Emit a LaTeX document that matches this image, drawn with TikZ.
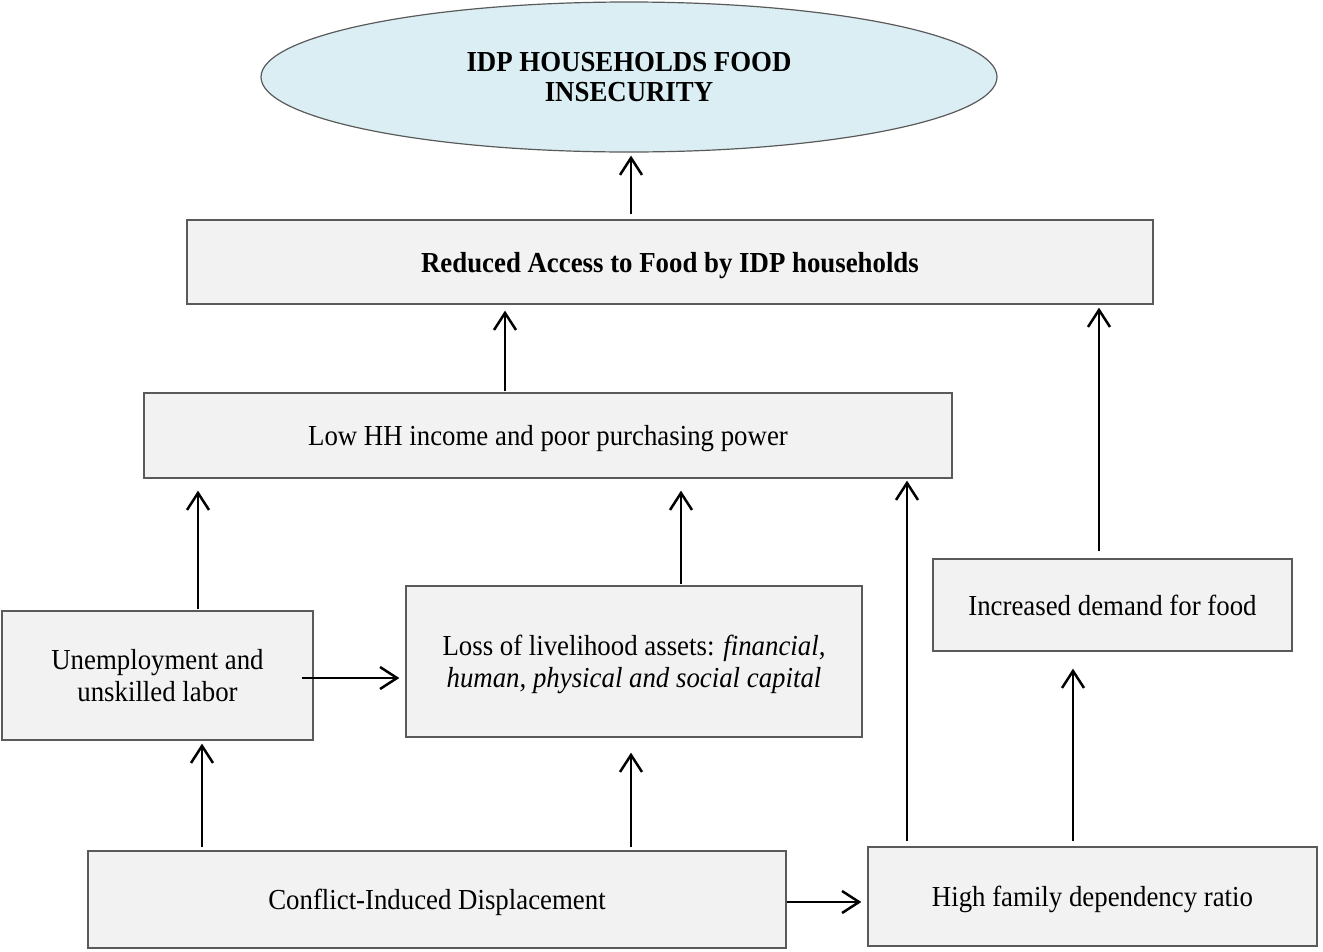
\documentclass[tikz,border=0pt]{standalone}
\usepackage{fontspec}
\setmainfont{Liberation Serif}[FakeStretch=0.925]
\usetikzlibrary{arrows.meta,shapes.geometric}
\definecolor{boxgray}{HTML}{F2F2F2}
\definecolor{ellblue}{HTML}{DAEEF3}
\definecolor{edgegray}{HTML}{5A5A5A}

\begin{document}
\begin{tikzpicture}[x=1pt,y=-1pt,
  box/.style={draw=edgegray, line width=1.3pt, fill=boxgray, inner sep=0pt,
    text depth=-4pt, align=center, font=\fontsize{29}{32}\selectfont},
  arr/.style={line width=2.5pt, -{Straight Barb[length=17pt,width=22pt]}}]

\useasboundingbox (0,0) rectangle (1323,951);

% goal
\node[ellipse, draw=edgegray, fill=ellblue, line width=1.2pt, inner sep=0pt,
  minimum width=736pt, minimum height=150pt, align=center,
  font=\bfseries\fontsize{29}{30}\selectfont] (insec) at (629,77)
  {IDP HOUSEHOLDS FOOD\\INSECURITY};

% boxes
\node[box, minimum width=966pt, minimum height=84pt,
  font=\bfseries\fontsize{29}{32}\selectfont] (access) at (670,262)
  {Reduced Access to Food by IDP households};
\node[box, minimum width=808pt, minimum height=85pt] (low) at (548,435.5)
  {Low HH income and poor purchasing power};
\node[box, minimum width=311pt, minimum height=129pt] (unemp) at (157.5,675.5)
  {Unemployment and\\unskilled labor};
\node[box, minimum width=456pt, minimum height=151pt] (loss) at (634,661.5)
  {Loss of livelihood assets: \textit{financial,}\\\textit{human, physical and social capital}};
\node[box, minimum width=359pt, minimum height=92pt] (incr) at (1112.5,605)
  {Increased demand for food};
\node[box, minimum width=698pt, minimum height=97pt] (conflict) at (437,899.5)
  {Conflict-Induced Displacement};
\node[box, minimum width=449pt, minimum height=99pt] (high) at (1092.5,896.5)
  {High family dependency ratio};

% arrows
\draw[arr, shorten <=5pt, shorten >=3pt] (access.north -| 631,0) -- (insec.south -| 631,0);
\draw[arr, shorten <=1pt, shorten >=6pt] (low.north -| 505,0) -- (access.south -| 505,0);
\draw[arr, shorten <=1pt, shorten >=12pt] (unemp.north -| 198,0) -- (low.south -| 198,0);
\draw[arr, shorten <=1pt, shorten >=12pt] (loss.north -| 681,0) -- (low.south -| 681,0);
\draw[arr, shorten <=5pt, shorten >=2pt] (high.north -| 907,0) -- (low.south -| 907,0);
\draw[arr, shorten <=7pt, shorten >=3pt] (incr.north -| 1099,0) -- (access.south -| 1099,0);
\draw[arr, shorten <=3pt, shorten >=3pt] (conflict.north -| 202,0) -- (unemp.south -| 202,0);
\draw[arr, shorten <=3pt, shorten >=15pt] (conflict.north -| 631,0) -- (loss.south -| 631,0);
\draw[arr, shorten <=5pt, shorten >=17pt] (high.north -| 1073,0) -- (incr.south -| 1073,0);
\draw[arr, shorten <=-12pt, shorten >=6pt] (unemp.east |- 0,678) -- (loss.west |- 0,678);
\draw[arr, shorten >=6pt] (conflict.east |- 0,902) -- (high.west |- 0,902);

\end{tikzpicture}
\end{document}
